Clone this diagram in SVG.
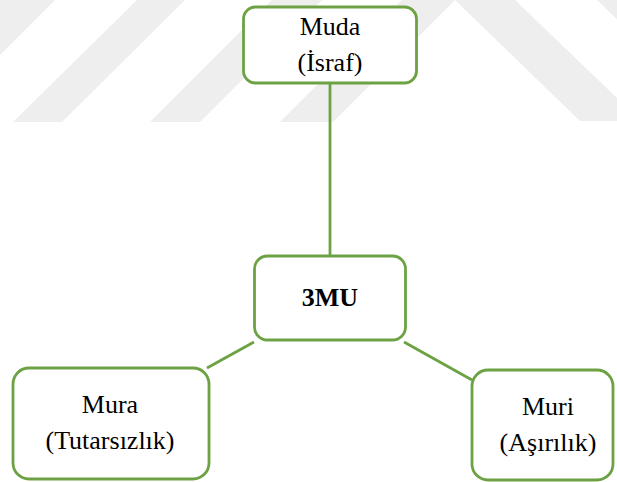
<svg xmlns="http://www.w3.org/2000/svg" width="617" height="482" viewBox="0 0 617 482">
  <style>
    .band { fill: #eeeeee; }
    .box { fill: #ffffff; stroke: #6ca244; stroke-width: 2.8; }
    .link { stroke: #6ca244; stroke-width: 2.8; fill: none; }
    .label { font-family: "Liberation Serif", "Times New Roman", serif; font-size: 26px; fill: #000000; text-anchor: middle; }
    .bold { font-weight: bold; }
  </style>

  <rect width="617" height="482" fill="#ffffff"/>

  <!-- faint diagonal stripes along the top edge -->
  <g id="stripes">
    <polygon class="band" points="0,0 55,0 0,55"/>
    <polygon class="band" points="137,0 185,0 62,122 13,122"/>
    <polygon class="band" points="272,0 322,0 200,122 150,122"/>
    <polygon class="band" points="402,0 455,0 333,122 280,122"/>
    <polygon class="band" points="455,0 515,0 641,121 580,121"/>
    <polygon class="band" points="597,0 660,0 780,120 720,120"/>
  </g>

  <!-- connectors -->
  <g id="connectors">
    <line class="link" x1="330" y1="83" x2="330" y2="256"/>
    <line class="link" x1="254" y1="342" x2="207" y2="368"/>
    <line class="link" x1="404" y1="342" x2="472" y2="380"/>
  </g>

  <g id="muda">
    <rect class="box" x="243.5" y="7" width="173" height="76" rx="12"/>
    <text class="label" x="330" y="35">Muda</text>
    <text class="label" x="330" y="71">(İsraf)</text>
  </g>

  <g id="center">
    <rect class="box" x="254.5" y="256" width="151" height="84" rx="13"/>
    <text class="label bold" x="330" y="306">3MU</text>
  </g>

  <g id="mura">
    <rect class="box" x="13" y="368" width="196" height="111" rx="16"/>
    <text class="label" x="110" y="413">Mura</text>
    <text class="label" x="110" y="449">(Tutarsızlık)</text>
  </g>

  <g id="muri">
    <rect class="box" x="472" y="370" width="141" height="110" rx="16"/>
    <text class="label" x="548" y="415">Muri</text>
    <text class="label" x="548" y="451">(Aşırılık)</text>
  </g>
</svg>
